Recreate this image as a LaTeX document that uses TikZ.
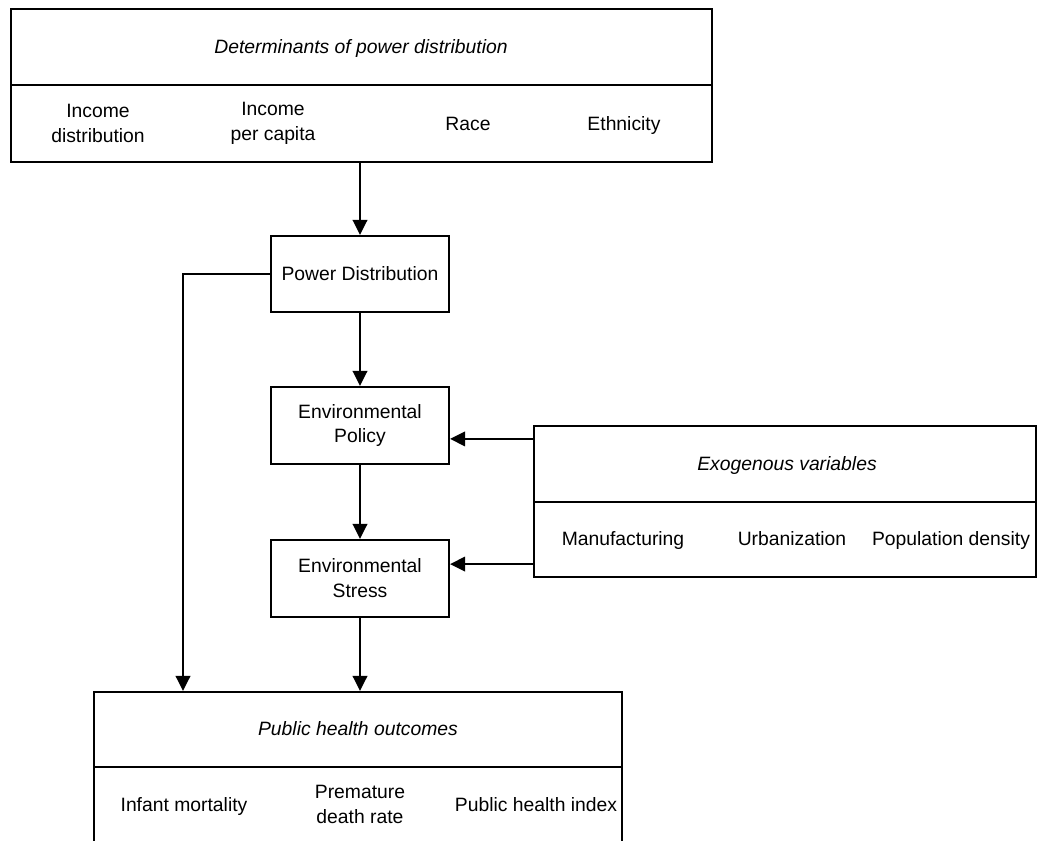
\documentclass[tikz,border=0pt]{standalone}
\usepackage{fontspec}
\setmainfont{Liberation Sans}
\usetikzlibrary{arrows.meta}
\tikzset{
  box/.style={draw, line width=1.25pt, rectangle, inner sep=0pt},
  head/.style={font=\fontsize{11}{14.2}\selectfont\itshape, inner sep=0pt, text height=7.9pt, text depth=0pt},
  entry/.style={font=\fontsize{11}{14.2}\selectfont, align=center, inner sep=0pt},
  oneline/.style={entry, text height=7.9pt, text depth=0pt},
  rule/.style={line width=1.25pt},
  link/.style={line width=1.25pt, -{Triangle[length=0.3cm, width=0.29cm]}}
}

\begin{document}
\begin{tikzpicture}[x=0.02cm, y=-0.02cm]
\clip (0,0) rectangle (1038,841);
% determinants
\node[box, minimum width=14.02cm, minimum height=3.06cm] (det) at (361.5,85.5) {};
\draw[rule] (11,85) -- (712,85);
\node[head] (dethead) at (361,47) {Determinants of power distribution};
\node[entry] (incdist) at (98,123.5) {Income\\distribution};
\node[entry] (inccap) at (273,123.5) {Income\\per capita};
\node[oneline] (race) at (468,124) {Race};
\node[oneline] (ethn) at (624,124) {Ethnicity};
% chain
\node[box, oneline, minimum width=3.56cm, minimum height=1.52cm] (pd) at (360,274) {Power Distribution};
\node[box, entry, minimum width=3.56cm, minimum height=1.54cm] (ep) at (360,425.5) {Environmental\\Policy};
\node[box, entry, minimum width=3.56cm, minimum height=1.54cm] (es) at (360,578.5) {Environmental\\Stress};
% exogenous
\node[box, minimum width=10.04cm, minimum height=3.02cm] (exo) at (785,501.5) {};
\draw[rule] (534,502) -- (1036,502);
\node[head] (exohead) at (787,464) {Exogenous variables};
\node[oneline] (manuf) at (623,539) {Manufacturing};
\node[oneline] (urban) at (792,539) {Urbanization};
\node[oneline] (popd) at (951,539) {Population density};
% outcomes
\node[box, minimum width=10.56cm, minimum height=4.16cm] (outc) at (358,796) {};
\draw[rule] (94,767) -- (622,767);
\node[head] (outhead) at (358,729) {Public health outcomes};
\node[oneline] (infant) at (184,805) {Infant mortality};
\node[entry] (death) at (360,804.5) {Premature\\death rate};
\node[oneline] (phi) at (536,805) {Public health index};
% connectors
\coordinate (side) at (183,274);
\draw[link] (det.south -| pd) -- (pd.north);
\draw[link] (pd.west) -- (side) -- (side |- outc.north);
\draw[link] (pd.south) -- (ep.north);
\draw[link] (ep.south) -- (es.north);
\draw[link] (es.south) -- (es.south |- outc.north);
\draw[link] ([yshift=-0.28cm]exo.north west) -- ([yshift=-0.28cm]exo.north west -| ep.east);
\draw[link] ([yshift=0.28cm]exo.south west) -- ([yshift=0.28cm]exo.south west -| es.east);
\end{tikzpicture}
\end{document}
